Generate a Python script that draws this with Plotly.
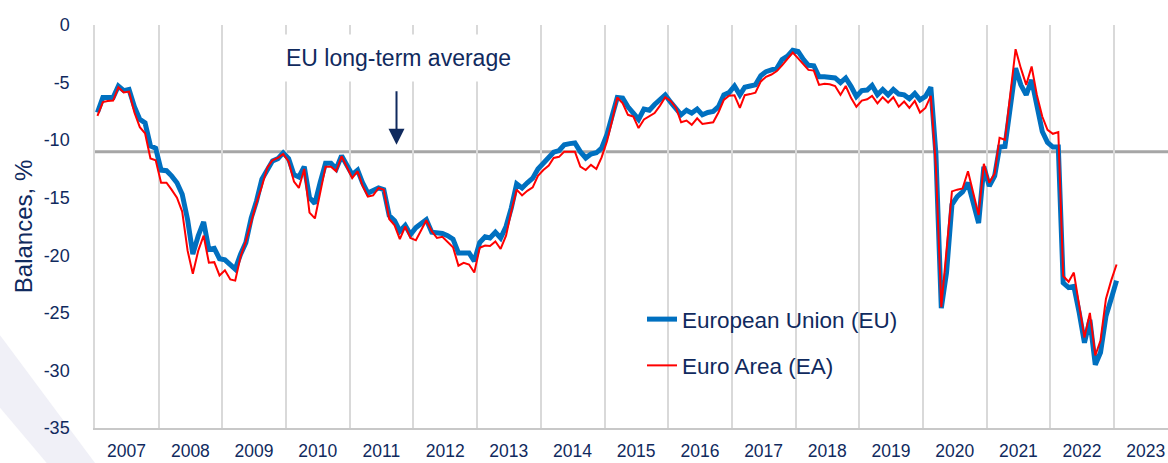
import pandas as pd
import plotly.graph_objects as go

# Monthly consumer confidence balances (%), Jan 2007 - Jan 2023
eu_values = [
    -7.6, -6.3, -6.3, -6.3, -5.3, -5.7, -5.6, -7.1, -8.2, -8.5, -10.5, -10.7,   # 2007
    -12.6, -12.65, -13.1, -13.7, -14.7, -16.9, -19.9, -18.3, -17.1, -19.5, -19.4, -20.3,  # 2008
    -20.4, -20.9, -21.2, -19.9, -18.9, -16.75, -15.3, -13.4, -12.5, -11.8, -11.6, -11.1,  # 2009
    -11.6, -13.0, -13.2, -12.3, -15.0, -15.5, -13.7, -12.0, -12.0, -12.5, -11.35, -12.1,  # 2010
    -13.0, -12.6, -13.7, -14.6, -14.4, -14.15, -14.3, -16.55, -17.0, -17.9, -17.4, -18.2,  # 2011
    -17.6, -17.2, -16.9, -18.0, -18.05, -18.1, -18.3, -18.6, -19.8, -19.8, -19.8, -20.5,  # 2012
    -18.9, -18.4, -18.5, -18.0, -18.5, -17.5, -15.9, -13.8, -14.15, -13.7, -13.3, -12.5,  # 2013
    -12.05, -11.5, -11.05, -10.9, -10.4, -10.3, -10.25, -11.0, -11.55, -11.2, -11.1, -10.7,  # 2014
    -9.5, -7.8, -6.3, -6.35, -7.1, -7.65, -8.2, -7.3, -7.4, -6.9, -6.5, -6.07,  # 2015
    -6.7, -7.3, -7.8, -7.4, -7.65, -7.3, -7.8, -7.6, -7.5, -7.1, -6.07, -5.87,  # 2016
    -5.3, -6.07, -5.4, -5.3, -5.2, -4.4, -4.05, -3.9, -3.75, -3.0, -2.7, -2.2,  # 2017
    -2.3, -3.0, -3.5, -3.55, -4.5, -4.5, -4.5, -4.6, -5.0, -4.6, -5.35, -6.2,  # 2018
    -5.7, -5.65, -5.25, -6.05, -5.6, -6.07, -5.6, -6.0, -6.07, -6.4, -5.95, -6.5,  # 2019
    -6.2, -5.4, -11.2, -24.6, -21.5, -15.6, -14.9, -14.5, -13.7, -15.45, -17.2, -12.3,  # 2020
    -14.0, -13.1, -10.6, -10.55, -7.4, -3.75, -5.2, -6.07, -4.77, -7.08, -9.25, -10.2,  # 2021
    -10.6, -10.6, -22.4, -22.8, -22.7, -25.0, -27.6, -25.6, -29.5, -28.45, -25.3, -23.8,  # 2022
    -22.2,  # 2023
]

ea_values = [
    -7.9, -6.7, -6.6, -6.56, -5.4, -5.86, -5.78, -7.6, -8.87, -9.4, -11.6, -11.75,  # 2007
    -13.7, -13.7, -14.3, -15.0, -16.2, -19.6, -21.6, -19.6, -18.3, -20.65, -20.6, -21.75,  # 2008
    -21.3, -22.1, -22.2, -20.1, -18.8, -17.0, -15.45, -14.0, -12.4, -11.75, -11.55, -11.2,  # 2009
    -11.85, -13.6, -14.15, -12.5, -16.3, -16.8, -14.7, -12.3, -12.3, -12.7, -11.4, -12.4,  # 2010
    -13.3, -12.7, -13.95, -14.9, -14.8, -14.15, -14.3, -16.85, -17.4, -18.6, -17.5, -18.5,  # 2011
    -18.7, -17.8, -16.95, -17.9, -18.5, -18.4, -18.8, -19.3, -20.9, -20.65, -20.8, -21.5,  # 2012
    -19.35, -19.15, -19.2, -18.8, -19.45, -18.3, -16.2, -14.3, -14.8, -14.4, -14.1, -13.1,  # 2013
    -12.6, -12.2, -11.55, -11.45, -11.0, -11.0, -11.0, -12.3, -12.6, -12.15, -12.5, -11.5,  # 2014
    -10.1, -8.2, -6.3, -6.8, -7.8, -7.95, -8.95, -8.2, -7.9, -7.65, -7.0, -6.27,  # 2015
    -6.6, -7.2, -8.45, -8.3, -8.67, -8.1, -8.6, -8.5, -8.45, -7.6, -6.5, -6.15,  # 2016
    -6.1, -7.2, -6.1, -6.0, -5.87, -4.9, -4.5, -4.3, -4.0, -3.5, -2.9, -2.4,  # 2017
    -2.9, -3.4, -3.9, -3.96, -5.2, -5.1, -5.15, -5.3, -6.07, -5.3, -6.35, -7.1,  # 2018
    -6.56, -6.45, -6.15, -6.8, -6.27, -6.73, -6.27, -7.1, -6.65, -7.2, -6.6, -7.6,  # 2019
    -7.2, -6.15, -12.3, -24.5, -19.8, -14.45, -14.3, -14.2, -12.7, -14.6, -16.5, -12.05,  # 2020
    -13.7, -12.9, -9.8, -9.97, -6.2, -2.1, -3.75, -5.2, -3.6, -6.07, -7.95, -9.1,  # 2021
    -9.45, -9.3, -21.8, -22.3, -21.5, -24.3, -27.15, -25.0, -28.7, -27.4, -23.8, -22.2,  # 2022
    -20.8,  # 2023
]

eu_long_term_average = -11.0
series_names = ["European Union (EU)", "Euro Area (EA)"]
y_title = "Balances, %"
annotation_text = "EU long-term average"
x_tick_labels = [str(y) for y in range(2007, 2024)]
y_tick_values = [0, -5, -10, -15, -20, -25, -30, -35]
y_tick_labels = ["0", "-5", "-10", "-15", "-20", "-25", "-30", "-35"]

dates = pd.date_range("2007-01-01", periods=len(eu_values), freq="MS") + pd.Timedelta(days=14)
x_tick_positions = pd.date_range("2007-07-01", periods=len(x_tick_labels), freq="12MS")

NAVY = "#102A5E"
FONT = "Liberation Sans, Arial, sans-serif"

fig = go.Figure()
fig.add_trace(go.Scatter(x=dates, y=eu_values, name=series_names[0], mode="lines",
                         legendgroup="eu",
                         line=dict(color="#0070C0", width=5)))
fig.add_trace(go.Scatter(x=dates, y=ea_values, name=series_names[1], mode="lines",
                         legendgroup="ea",
                         line=dict(color="#FF0000", width=2)))

fig.add_shape(type="line", xref="paper", x0=0, x1=1, yref="y",
              y0=eu_long_term_average, y1=eu_long_term_average,
              line=dict(color="#A6A6A6", width=3), layer="between")

# white panel behind the legend (hides gridlines)
fig.add_shape(type="rect", xref="paper", yref="paper", layer="between",
              x0=0.462, x1=0.783, y0=0.092, y1=0.33,
              fillcolor="white", line=dict(width=0))

# faint background decoration bottom-left
fig.add_shape(type="path", xref="paper", yref="paper", layer="below",
              path="M -0.0885,0.23 L 0.0,-0.0868 L -0.045,-0.0868 L -0.0885,0.05 Z",
              fillcolor="#F0F0F7", line=dict(width=0))

fig.add_annotation(text=annotation_text, xref="paper", yref="paper",
                   x=0.2824, y=0.918, xanchor="center", yanchor="middle",
                   showarrow=False,
                   font=dict(family=FONT, size=23, color=NAVY),
                   bgcolor="white", borderpad=10)
fig.add_annotation(text="", xref="x", yref="y", x="2011-09-26", y=-10.4,
                   ax=0, ay=-55, showarrow=True, arrowhead=2, arrowsize=1.6,
                   arrowwidth=2, arrowcolor=NAVY)

fig.update_layout(
    width=1168, height=463,
    margin=dict(l=95, r=0, t=25, b=35),
    paper_bgcolor="white", plot_bgcolor="white",
    font=dict(family=FONT, color=NAVY),
    showlegend=True,
    legend=dict(x=0.5098, y=0.3226, xanchor="left", yanchor="top",
                bgcolor="rgba(0,0,0,0)", borderwidth=0,
                tracegroupgap=14,
                font=dict(family=FONT, size=22.5, color=NAVY)),
)

fig.update_xaxes(
    type="date", range=["2007-01-01", "2023-11-06"],
    tickmode="array", tickvals=x_tick_positions, ticktext=x_tick_labels,
    showgrid=False, ticklabelstandoff=6,
    minor=dict(tickmode="linear", tick0="2007-01-01", dtick="M12",
               showgrid=True, gridcolor="#D9D9D9", gridwidth=1.5, ticks=""),
    showline=True, linecolor="#C8C8C8", linewidth=1.5,
    ticks="", tickfont=dict(family=FONT, size=17.5, color=NAVY),
    zeroline=False,
)
fig.update_yaxes(
    range=[-35, 0], tickmode="array", tickvals=y_tick_values, ticktext=y_tick_labels,
    showgrid=False, zeroline=False,
    showline=True, linecolor="#D9D9D9", linewidth=1.5,
    ticks="", ticklabelstandoff=20,
    tickfont=dict(family=FONT, size=18, color=NAVY),
    title=dict(text=y_title, font=dict(family=FONT, size=24, color=NAVY), standoff=4),
)

fig.write_html("out.html")
